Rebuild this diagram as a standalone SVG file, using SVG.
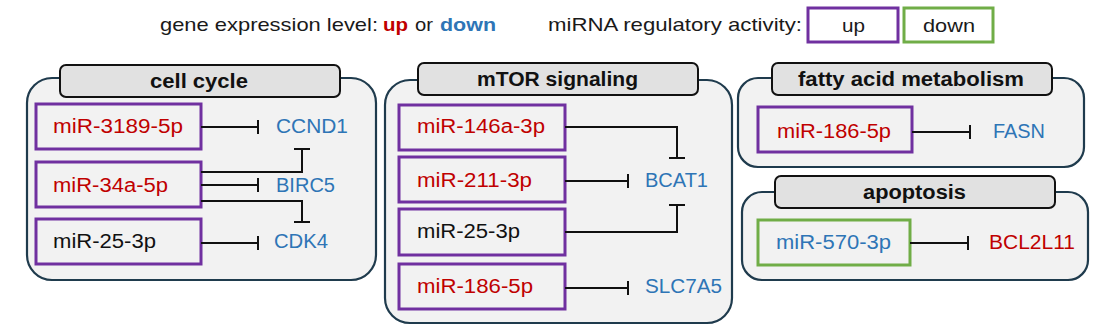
<svg xmlns="http://www.w3.org/2000/svg" width="1118" height="336" viewBox="0 0 1118 336">
<style>
text{font-family:"Liberation Sans",Arial,sans-serif;}
.lg{font-size:19px;fill:#1a1a1a;}
.panel{fill:#f2f2f2;stroke:#1f3b4d;stroke-width:2.2;}
.tab{fill:#e1e1e1;stroke:#111;stroke-width:2;}
.ttl{font-size:20px;font-weight:bold;fill:#111;}
.up{fill:#f2f2f2;stroke:#7030a0;stroke-width:3;}
.dn{fill:#f2f2f2;stroke:#70ad47;stroke-width:3;}
.mir{font-size:19.5px;}
.gene{font-size:19.5px;}
.r{fill:#c00000;}
.b{fill:#2e75b6;}
.k{fill:#111;}
.c{fill:none;stroke:#111;stroke-width:2;}
</style>
<rect width="1118" height="336" fill="#ffffff"/>
<g id="legend">
<text class="lg" x="160" y="31" textLength="218" lengthAdjust="spacingAndGlyphs">gene expression level:</text>
<text class="lg r" x="383" y="31" font-weight="bold" textLength="25" lengthAdjust="spacingAndGlyphs">up</text>
<text class="lg" x="415" y="31" textLength="18" lengthAdjust="spacingAndGlyphs">or</text>
<text class="lg b" x="440" y="31" font-weight="bold" textLength="56" lengthAdjust="spacingAndGlyphs">down</text>
<text class="lg" x="548" y="31" textLength="254" lengthAdjust="spacingAndGlyphs">miRNA regulatory activity:</text>
<rect x="808" y="8" width="90" height="34" fill="#fff" stroke="#7030a0" stroke-width="3"/>
<text class="lg" x="842" y="32" textLength="23" lengthAdjust="spacingAndGlyphs">up</text>
<rect x="904" y="8" width="89" height="34" fill="#fff" stroke="#70ad47" stroke-width="3"/>
<text class="lg" x="923" y="32" textLength="52" lengthAdjust="spacingAndGlyphs">down</text>
</g>
<g id="cell-cycle">
<rect class="panel" x="27" y="78" width="349" height="202" rx="25"/>
<rect class="tab" x="60" y="65" width="280" height="32" rx="6"/>
<text class="ttl" x="150" y="88" textLength="98" lengthAdjust="spacingAndGlyphs">cell cycle</text>
</g>
<g id="cc-mir-3189-5p"><rect class="up" x="36" y="104" width="165" height="45"/><text class="mir r" x="53" y="133" textLength="130" lengthAdjust="spacingAndGlyphs">miR-3189-5p</text></g>
<g id="cc-mir-34a-5p"><rect class="up" x="36" y="162" width="165" height="45"/><text class="mir r" x="53" y="192" textLength="115" lengthAdjust="spacingAndGlyphs">miR-34a-5p</text></g>
<g id="cc-mir-25-3p"><rect class="up" x="36" y="219" width="165" height="45"/><text class="mir k" x="53" y="248" textLength="103" lengthAdjust="spacingAndGlyphs">miR-25-3p</text></g>
<g id="cc-ccnd1"><text class="gene b" x="276" y="133" textLength="72" lengthAdjust="spacingAndGlyphs">CCND1</text></g>
<g id="cc-birc5"><text class="gene b" x="276" y="192" textLength="59" lengthAdjust="spacingAndGlyphs">BIRC5</text></g>
<g id="cc-cdk4"><text class="gene b" x="274" y="248" textLength="54" lengthAdjust="spacingAndGlyphs">CDK4</text></g>
<g id="mtor">
<rect class="panel" x="385" y="80" width="347" height="243" rx="25"/>
<rect class="tab" x="418" y="63" width="280" height="32" rx="6"/>
<text class="ttl" x="477" y="86" textLength="161" lengthAdjust="spacingAndGlyphs">mTOR signaling</text>
</g>
<g id="mt-mir-146a-3p"><rect class="up" x="399" y="105" width="166" height="45"/><text class="mir r" x="417" y="133" textLength="128" lengthAdjust="spacingAndGlyphs">miR-146a-3p</text></g>
<g id="mt-mir-211-3p"><rect class="up" x="399" y="157" width="166" height="45"/><text class="mir r" x="417" y="187" textLength="115" lengthAdjust="spacingAndGlyphs">miR-211-3p</text></g>
<g id="mt-mir-25-3p"><rect class="up" x="399" y="209" width="166" height="46"/><text class="mir k" x="417" y="238" textLength="103" lengthAdjust="spacingAndGlyphs">miR-25-3p</text></g>
<g id="mt-mir-186-5p"><rect class="up" x="399" y="264" width="166" height="45"/><text class="mir r" x="417" y="293" textLength="116" lengthAdjust="spacingAndGlyphs">miR-186-5p</text></g>
<g id="mt-bcat1"><text class="gene b" x="645" y="187" textLength="63" lengthAdjust="spacingAndGlyphs">BCAT1</text></g>
<g id="mt-slc7a5"><text class="gene b" x="645" y="293" textLength="77" lengthAdjust="spacingAndGlyphs">SLC7A5</text></g>
<g id="fatty-acid">
<rect class="panel" x="738" y="78" width="346" height="89" rx="20"/>
<rect class="tab" x="772" y="63" width="280" height="32" rx="6"/>
<text class="ttl" x="798" y="86" textLength="226" lengthAdjust="spacingAndGlyphs">fatty acid metabolism</text>
</g>
<g id="fa-mir-186-5p"><rect class="up" x="758" y="107" width="154" height="45"/><text class="mir r" x="777" y="138" textLength="114" lengthAdjust="spacingAndGlyphs">miR-186-5p</text></g>
<g id="fa-fasn"><text class="gene b" x="993" y="138" textLength="52" lengthAdjust="spacingAndGlyphs">FASN</text></g>
<g id="apoptosis">
<rect class="panel" x="742" y="192" width="346" height="88" rx="20"/>
<rect class="tab" x="775" y="176" width="280" height="32" rx="6"/>
<text class="ttl" x="863" y="199" textLength="103" lengthAdjust="spacingAndGlyphs">apoptosis</text>
</g>
<g id="ap-mir-570-3p"><rect class="dn" x="758" y="220" width="152" height="45"/><text class="mir b" x="776" y="249" textLength="115" lengthAdjust="spacingAndGlyphs">miR-570-3p</text></g>
<g id="ap-bcl2l11"><text class="gene r" x="989" y="249" textLength="86" lengthAdjust="spacingAndGlyphs">BCL2L11</text></g>
<g id="connectors">
<path class="c" d="M201 127H258M258 120V134"/>
<path class="c" d="M201 185H258M258 178V192"/>
<path class="c" d="M201 172H302V149M294 149H310"/>
<path class="c" d="M201 201H302V222M294 222H310"/>
<path class="c" d="M201 243H258M258 236V250"/>
<path class="c" d="M565 127H677V158M669 158H685"/>
<path class="c" d="M565 181H628M628 174V188"/>
<path class="c" d="M565 232H677V205M669 205H685"/>
<path class="c" d="M565 288H628M628 281V295"/>
<path class="c" d="M912 132H970M970 125V139"/>
<path class="c" d="M910 243H968M968 236V250"/>
</g>
</svg>
